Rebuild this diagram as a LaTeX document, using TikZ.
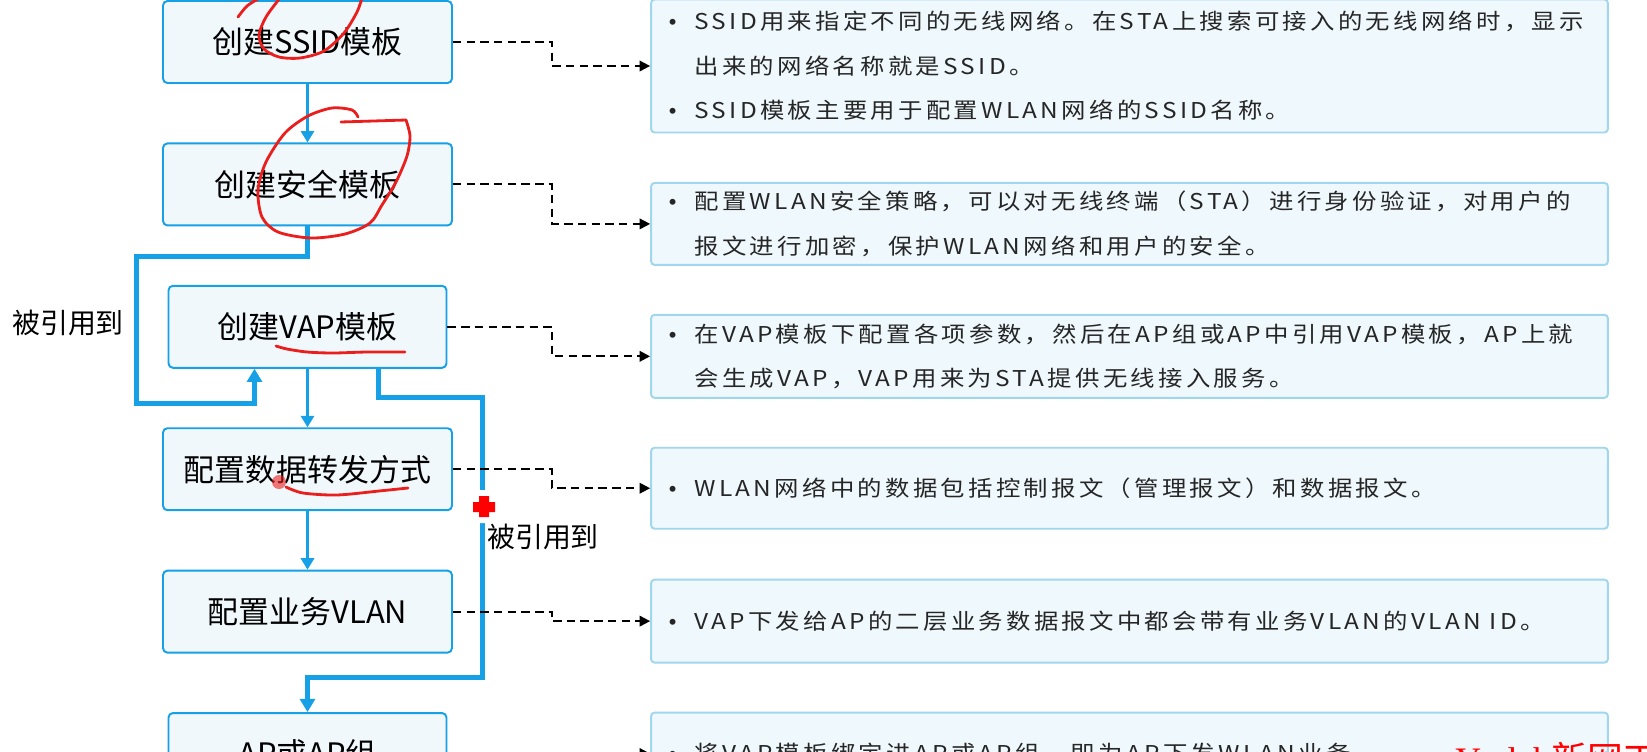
\documentclass[tikz,border=0pt]{standalone}
\usepackage{fontspec}
\setmainfont{Noto Sans CJK SC}
\newfontfamily\zhpanel[LetterSpace=15,FakeStretch=1.12]{Noto Sans CJK SC}
\newfontfamily\wmfont{Liberation Serif}
\newfontfamily\bulfont{Liberation Sans}
\usetikzlibrary{arrows.meta,positioning}
\definecolor{hwblue}{RGB}{22,160,230}
\definecolor{boxfill}{RGB}{241,248,252}
\definecolor{panelline}{RGB}{160,214,238}
\definecolor{panelfill}{RGB}{239,248,252}
\definecolor{inkred}{RGB}{235,30,30}
\newcommand{\bul}{\llap{{\bulfont •}\hspace{0.36cm}}}

\begin{document}
\begin{tikzpicture}[x=0.02cm, y=-0.02cm,
    stepbox/.style={rectangle, draw=hwblue, line width=1.1pt, fill=boxfill,
        minimum width=5.78cm, minimum height=1.64cm, rounded corners=2.5pt,
        inner sep=0pt, font=\fontsize{17.6}{20}\selectfont},
    narrow/.style={minimum width=5.56cm},
    panel/.style={rectangle, draw=panelline, line width=1.1pt, fill=panelfill,
        minimum width=19.14cm, rounded corners=2pt, inner sep=0pt},
    desc/.style={align=left, inner sep=0pt, text=black!85,
        font=\zhpanel\fontsize{12.4}{25.4}\selectfont},
    flow/.style={-{Triangle[length=6.5pt,width=7.5pt]}, line width=1.4pt, hwblue},
    refline/.style={-{Triangle[length=7.5pt,width=8.5pt]}, line width=2.8pt, hwblue},
    dasharr/.style={-{Triangle[length=6pt,width=6pt]}, line width=1.1pt,
        dash pattern=on 4.8pt off 3pt},
    reflabel/.style={inner sep=0pt, font=\fontsize{15.9}{18}\selectfont},
    ink/.style={inkred, line width=1.6pt, line cap=round, line join=round}
]
    \fill[white] (0,0) rectangle (1647,751);
    \useasboundingbox (0,0) rectangle (1647,751);

    % steps
    \node[stepbox] (ssid) at (307.5,42) {创建SSID模板};
    \node[stepbox, below=1.17cm of ssid] (sec) {创建安全模板};
    \node[stepbox, narrow, below=1.17cm of sec] (vap) {创建VAP模板};
    \node[stepbox, below=1.17cm of vap] (fwd) {配置数据转发方式};
    \node[stepbox, below=1.17cm of fwd] (vlan) {配置业务VLAN};
    \node[stepbox, narrow, below=1.17cm of vlan] (apg) {AP或AP组};

    % notes
    \node[panel, minimum height=2.66cm] (p1) at (1129.5,66) {};
    \node[panel, minimum height=1.64cm, below=0.97cm of p1] (p2) {};
    \node[panel, minimum height=1.66cm, below=0.96cm of p2] (p3) {};
    \node[panel, minimum height=1.62cm, below=0.96cm of p3] (p4) {};
    \node[panel, minimum height=1.66cm, below=0.98cm of p4] (p5) {};
    \node[panel, minimum height=1.64cm, below=0.96cm of p5] (p6) {};

    \node[desc, right=0.88cm of p1.west] (t1) {\bul SSID用来指定不同的无线网络。在STA上搜索可接入的无线网络时，显示\\出来的网络名称就是SSID。\\\bul SSID模板主要用于配置WLAN网络的SSID名称。};
    \node[desc, right=0.88cm of p2.west] (t2) {\bul 配置WLAN安全策略，可以对无线终端（STA）进行身份验证，对用户的\\报文进行加密，保护WLAN网络和用户的安全。};
    \node[desc, right=0.88cm of p3.west] (t3) {\bul 在VAP模板下配置各项参数，然后在AP组或AP中引用VAP模板，AP上就\\会生成VAP，VAP用来为STA提供无线接入服务。};
    \node[desc, right=0.88cm of p4.west] (t4) {\bul WLAN网络中的数据包括控制报文（管理报文）和数据报文。};
    \node[desc, right=0.88cm of p5.west] (t5) {\bul VAP下发给AP的二层业务数据报文中都会带有业务VLAN的VLAN ID。};
    \node[desc, right=0.88cm of p6.west] (t6) {\bul 将VAP模板绑定进AP或AP组，即为AP下发WLAN业务。};

    % flow
    \draw[flow] (ssid) -- (sec);
    \draw[flow] (vap) -- (fwd);
    \draw[flow] (fwd) -- (vlan);

    \draw[refline] (sec.south) -- ++(0,30) -| ++(-171,147) -| ([xshift=-1.06cm]vap.south);
    \draw[refline] ([xshift=1.42cm]vap.south) -- ++(0,29) -| ++(104,280) -| (apg.north);
    \node[reflabel] (lab1) at (68,323) {被引用到};
    \node[reflabel] (lab2) at (543,537) {被引用到};

    % dashed links
    \coordinate (bend) at (552,0);
    \draw[dasharr] (ssid.east) -| (bend |- p1.west) -- (p1.west);
    \draw[dasharr] (sec.east) -| (bend |- p2.west) -- (p2.west);
    \draw[dasharr] (vap.east) -| (bend |- p3.west) -- (p3.west);
    \draw[dasharr] (fwd.east) -| (bend |- p4.west) -- (p4.west);
    \draw[dasharr] (vlan.east) -| (bend |- p5.west) -- (p5.west);
    \draw[dasharr] (apg.east) -| (bend |- p6.west) -- (p6.west);

    % pen marks
    \draw[ink] plot[smooth] coordinates {(238,17) (247,6) (258,-1)};
    \draw[ink] plot[smooth] coordinates {(280,-2) (266,17) (259,35) (264,49) (279,57) (300,58) (324,51) (344,33) (357,12) (362,-2)};
    \draw[ink] (341,122) -- (406,120);
    \draw[ink] plot[smooth] coordinates {(406,120) (410,136) (407,156) (396,182) (382,205) (370,223) (345,234) (311,238) (278,232) (262,217) (258,190) (266,162) (285,133) (308,116) (332,108) (352,110) (358,117)};
    \draw[ink] plot[smooth] coordinates {(276,346) (287,349) (307,352) (333,353) (367,352) (405,352)};
    \fill[inkred, opacity=0.6] (279,482) circle (7);
    \draw[ink] plot[smooth] coordinates {(286,487) (303,493) (337,495) (379,491) (408,488)};

    % cursor
    \fill[white] (476,490) rectangle (492,523) (468,499) rectangle (500,514);
    \fill[red] (479,496) rectangle (489,517) (473,502) rectangle (495,512);

    \node[anchor=base west, inner sep=0pt, text=red, font=\fontsize{20.4}{22}\selectfont] (wm) at (1455,772) {{\wmfont Yeslab}新网工};
\end{tikzpicture}
\end{document}
